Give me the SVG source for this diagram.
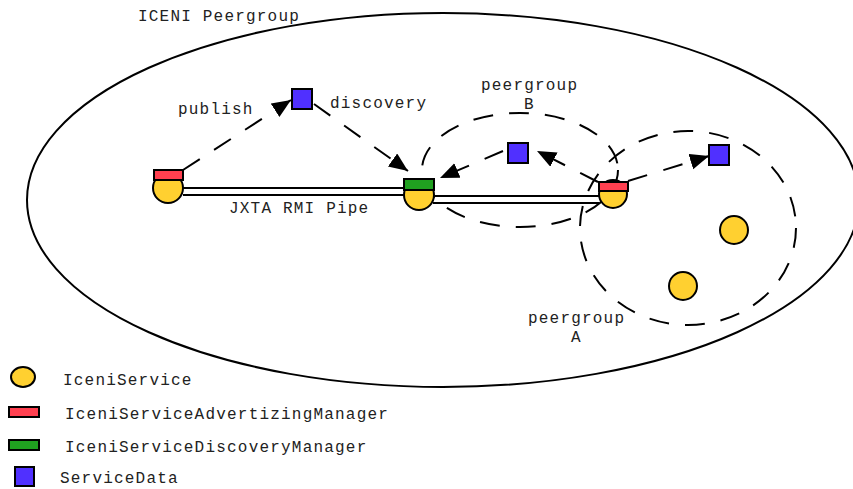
<svg xmlns="http://www.w3.org/2000/svg" width="853" height="489" viewBox="0 0 853 489">
  <style>
    text { font-family: "Liberation Mono", "Courier New", monospace; font-size: 16px; letter-spacing: 1.2px; fill: #222; }
    .group { fill: none; stroke: #000; stroke-width: 2; }
    .dashed { fill: none; stroke: #000; stroke-width: 2; stroke-dasharray: 20 16; }
    .svc { fill: #ffd030; stroke: #000; stroke-width: 2; }
    .adv { fill: #ff4050; stroke: #000; stroke-width: 2; }
    .disc { fill: #20a020; stroke: #000; stroke-width: 2; }
    .data { fill: #5030ff; stroke: #000; stroke-width: 2; }
    .pipe { fill: none; stroke: #000; stroke-width: 2.2; }
    .flow { fill: none; stroke: #000; stroke-width: 2; stroke-dasharray: 20 17; marker-end: url(#head); }
  </style>
  <defs>
    <marker id="head" markerUnits="userSpaceOnUse" markerWidth="22" markerHeight="18" refX="19" refY="8" orient="auto">
      <path d="M0,0 L19,8 L0,16 z" fill="#000"/>
    </marker>
  </defs>

  <rect width="853" height="489" fill="#fff"/>

  <!-- peer groups -->
  <g id="iceni-peergroup">
    <ellipse class="group" cx="443" cy="200" rx="416" ry="187"/>
    <text x="138" y="21">ICENI Peergroup</text>
  </g>
  <g id="peergroup-b">
    <ellipse class="dashed" cx="520" cy="170" rx="98" ry="57"/>
    <text x="481" y="90">peergroup</text>
    <text x="524" y="109">B</text>
  </g>
  <g id="peergroup-a">
    <ellipse class="dashed" cx="688" cy="228" rx="108" ry="97"/>
    <text x="528" y="323">peergroup</text>
    <text x="571" y="342">A</text>
  </g>

  <!-- connectors -->
  <g id="connectors">
    <path class="pipe" d="M183,188 H404 M183,195 H404"/>
    <path class="pipe" d="M433,196 H599 M433,203 H599"/>
    <path class="flow" d="M183,170 L291,100"/>
    <path class="flow" d="M314,104 L408,171"/>
    <path class="flow" d="M503,151 L440,178"/>
    <path class="flow" d="M598,182 L537,151"/>
    <path class="flow" d="M628,181 L709,156"/>
    <text x="229" y="213">JXTA RMI Pipe</text>
    <text x="178" y="114">publish</text>
    <text x="330" y="108">discovery</text>
  </g>

  <!-- peers -->
  <g id="peer-publisher">
    <circle class="svc" cx="168" cy="188" r="15"/>
    <rect class="adv" x="154" y="170" width="29" height="10"/>
  </g>
  <g id="peer-discoverer">
    <circle class="svc" cx="419" cy="195" r="15"/>
    <rect class="disc" x="404" y="179" width="30" height="11"/>
  </g>
  <g id="peer-bridge">
    <circle class="svc" cx="613" cy="194" r="14"/>
    <rect class="adv" x="599" y="182" width="29" height="9"/>
  </g>
  <g id="service-a1">
    <circle class="svc" cx="734" cy="230" r="14"/>
  </g>
  <g id="service-a2">
    <circle class="svc" cx="683" cy="286" r="14"/>
  </g>

  <!-- service data -->
  <g id="data-published"><rect class="data" x="292" y="89" width="20" height="20"/></g>
  <g id="data-b"><rect class="data" x="508" y="143" width="20" height="20"/></g>
  <g id="data-a"><rect class="data" x="709" y="145" width="20" height="20"/></g>

  <!-- legend -->
  <g id="legend-service">
    <ellipse class="svc" cx="23" cy="377" rx="12" ry="10"/>
    <text x="63" y="385">IceniService</text>
  </g>
  <g id="legend-advertizing">
    <rect class="adv" x="9" y="407" width="30" height="10"/>
    <text x="65" y="419">IceniServiceAdvertizingManager</text>
  </g>
  <g id="legend-discovery">
    <rect class="disc" x="9" y="440" width="30" height="10"/>
    <text x="65" y="452">IceniServiceDiscoveryManager</text>
  </g>
  <g id="legend-data">
    <rect class="data" x="15" y="467" width="19" height="19"/>
    <text x="60" y="483">ServiceData</text>
  </g>
</svg>
